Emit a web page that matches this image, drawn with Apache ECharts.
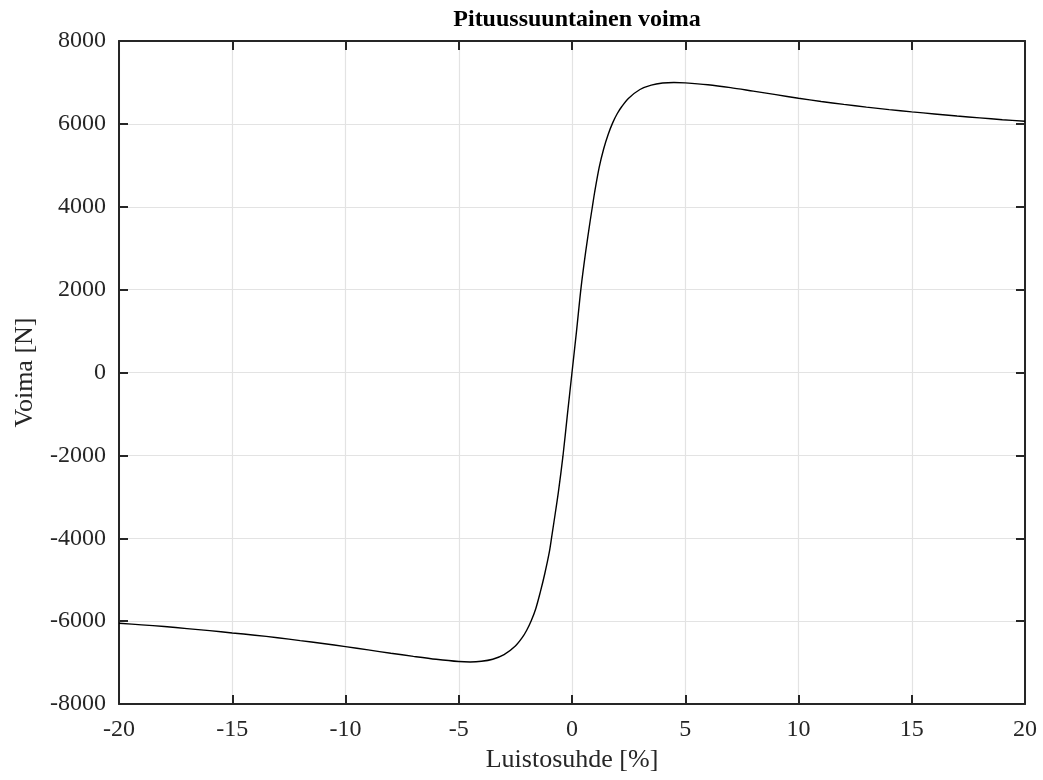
<!DOCTYPE html>
<html>
<head>
<meta charset="utf-8">
<title>Pituussuuntainen voima</title>
<script src="https://cdn.jsdelivr.net/npm/echarts@6/dist/echarts.min.js"></script>
<style>
    html, body { margin: 0; padding: 0; background: #fff; }
    #main { width: 1043px; height: 780px; }
</style>
</head>
<body>
<div id="main"></div>
<script>
// luistosuhde [%]
var slip = [-20, -19, -18, -17, -16, -15, -14, -13, -12, -11, -10, -9, -8, -7, -6, -5, -4.5, -4, -3.5, -3, -2.5, -2.2, -2, -1.8, -1.6, -1.4, -1.2, -1, -0.9, -0.8, -0.6, -0.4, -0.2,
    0, 0.2, 0.4, 0.6, 0.8, 0.9, 1, 1.2, 1.4, 1.6, 1.8, 2, 2.2, 2.5, 3, 3.5, 4, 4.5, 5, 6, 7, 8, 9, 10, 11, 12, 13, 14, 15, 16, 17, 18, 19, 20];
// voima [N]
var force = [-6050, -6090, -6130, -6180, -6230, -6285, -6340, -6400, -6470, -6540, -6615, -6695, -6775, -6850, -6920, -6975, -6985, -6970, -6920, -6810, -6600, -6400, -6220, -5990, -5700, -5300, -4850, -4330, -3980, -3620, -2880, -2020, -1000,
    0, 1000, 2050, 2900, 3650, 4000, 4350, 4950, 5400, 5750, 6030, 6250, 6420, 6620, 6830, 6935, 6985, 7000, 6990, 6945, 6875, 6790, 6705, 6620, 6540, 6470, 6405, 6345, 6290, 6240, 6190, 6145, 6100, 6065];

var points = [];
for (var i = 0; i < slip.length; ++i) {
    points.push([slip[i], force[i]]);
}

var font = 'Liberation Serif, Times New Roman, serif';
var dark = '#262626';

var myChart = echarts.init(document.getElementById('main'), null, { renderer: 'canvas' });

var option = {
    animation: false,
    backgroundColor: '#fff',
    title: {
        text: 'Pituussuuntainen voima',
        left: 572,
        textAlign: 'center',
        top: 3,
        textStyle: { fontFamily: font, fontWeight: 'bold', fontSize: 24, color: '#000' }
    },
    // ei automaattista kutistusta, sijainti kuten alkuperäisessä
    grid: { left: 119, top: 41, width: 906, height: 663, outerBoundsMode: 'none', containLabel: false },
    xAxis: [{
        type: 'value',
        min: -20,
        max: 20,
        interval: 5,
        position: 'bottom',
        name: 'Luistosuhde [%]',
        nameLocation: 'middle',
        nameGap: 40,
        nameTextStyle: { fontFamily: font, fontSize: 26, color: dark },
        axisLine: { onZero: false, lineStyle: { color: dark, width: 2 } },
        axisTick: { inside: true, length: 9, lineStyle: { color: dark, width: 2 } },
        axisLabel: { fontFamily: font, fontSize: 24, color: dark, margin: 14 },
        splitLine: { show: true, lineStyle: { color: '#e3e3e3', width: 1.2 } }
    }, {
        type: 'value',
        min: -20,
        max: 20,
        interval: 5,
        position: 'top',
        axisLine: { onZero: false, lineStyle: { color: dark, width: 2 } },
        axisTick: { inside: true, length: 9, lineStyle: { color: dark, width: 2 } },
        axisLabel: { show: false },
        splitLine: { show: false }
    }],
    yAxis: [{
        type: 'value',
        min: -8000,
        max: 8000,
        interval: 2000,
        position: 'left',
        name: 'Voima [N]',
        nameLocation: 'middle',
        nameGap: 81,
        nameTextStyle: { fontFamily: font, fontSize: 26, color: dark },
        axisLine: { show: true, onZero: false, lineStyle: { color: dark, width: 2 } },
        axisTick: { show: true, inside: true, length: 9, lineStyle: { color: dark, width: 2 } },
        axisLabel: {
            fontFamily: font, fontSize: 24, color: dark, margin: 13,
            formatter: function (v) { return String(v); }
        },
        splitLine: { show: true, lineStyle: { color: '#e3e3e3', width: 1.2 } }
    }, {
        type: 'value',
        min: -8000,
        max: 8000,
        interval: 2000,
        position: 'right',
        axisLine: { show: true, onZero: false, lineStyle: { color: dark, width: 2 } },
        axisTick: { show: true, inside: true, length: 9, lineStyle: { color: dark, width: 2 } },
        axisLabel: { show: false },
        splitLine: { show: false }
    }],
    series: [{
        name: 'Fx',
        type: 'line',
        xAxisIndex: 0,
        yAxisIndex: 0,
        data: points,
        smooth: 0.3,
        showSymbol: false,
        lineStyle: { color: '#000', width: 1.4 }
    }]
};

myChart.setOption(option);
</script>
</body>
</html>
